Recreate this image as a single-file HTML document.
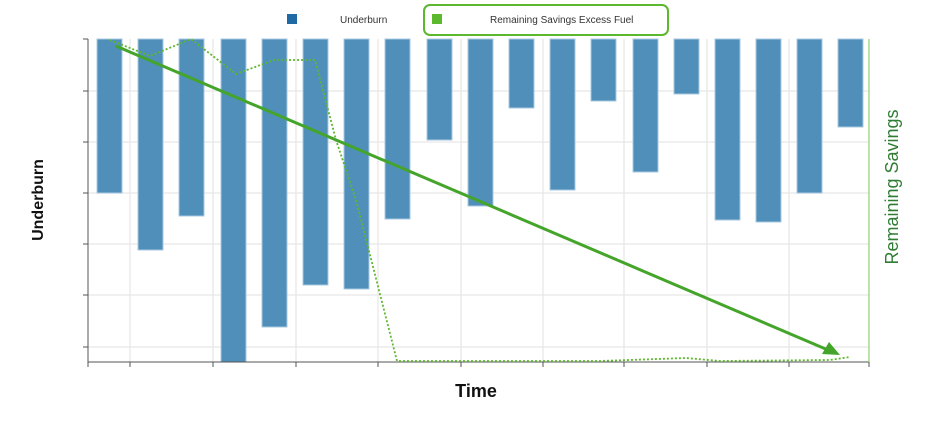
<!DOCTYPE html>
<html><head><meta charset="utf-8"><style>body{margin:0;background:#fff}</style></head><body>
<svg width="940" height="435" xmlns="http://www.w3.org/2000/svg" font-family="Liberation Sans, sans-serif">
<rect width="940" height="435" fill="#fff"/>
<g stroke="#e6e6e6" stroke-width="1.2">
<line x1="88" y1="91" x2="869" y2="91"/><line x1="88" y1="142" x2="869" y2="142"/><line x1="88" y1="193" x2="869" y2="193"/><line x1="88" y1="244" x2="869" y2="244"/><line x1="88" y1="295" x2="869" y2="295"/><line x1="88" y1="347" x2="869" y2="347"/>
<line x1="130" y1="39" x2="130" y2="362"/><line x1="213" y1="39" x2="213" y2="362"/><line x1="296" y1="39" x2="296" y2="362"/><line x1="378" y1="39" x2="378" y2="362"/><line x1="461" y1="39" x2="461" y2="362"/><line x1="543" y1="39" x2="543" y2="362"/><line x1="624" y1="39" x2="624" y2="362"/><line x1="707" y1="39" x2="707" y2="362"/><line x1="789" y1="39" x2="789" y2="362"/>
</g>
<g fill="#4f8fba" stroke="#a9c8e0" stroke-width="1">
<rect x="97" y="39" width="25" height="154"/><rect x="138" y="39" width="25" height="211"/><rect x="179" y="39" width="25" height="177"/><rect x="221" y="39" width="25" height="323"/><rect x="262" y="39" width="25" height="288"/><rect x="303" y="39" width="25" height="246"/><rect x="344" y="39" width="25" height="250"/><rect x="385" y="39" width="25" height="180"/><rect x="427" y="39" width="25" height="101"/><rect x="468" y="39" width="25" height="167"/><rect x="509" y="39" width="25" height="69"/><rect x="550" y="39" width="25" height="151"/><rect x="591" y="39" width="25" height="62"/><rect x="633" y="39" width="25" height="133"/><rect x="674" y="39" width="25" height="55"/><rect x="715" y="39" width="25" height="181"/><rect x="756" y="39" width="25" height="183"/><rect x="797" y="39" width="25" height="154"/><rect x="838" y="39" width="25" height="88"/>
</g>
<g stroke="#555" stroke-width="1">
<line x1="88" y1="39" x2="88" y2="362"/><line x1="88" y1="362" x2="869" y2="362"/>
<line x1="83" y1="39" x2="88" y2="39"/><line x1="83" y1="91" x2="88" y2="91"/><line x1="83" y1="142" x2="88" y2="142"/><line x1="83" y1="193" x2="88" y2="193"/><line x1="83" y1="244" x2="88" y2="244"/><line x1="83" y1="295" x2="88" y2="295"/><line x1="83" y1="347" x2="88" y2="347"/>
<line x1="88" y1="362" x2="88" y2="367"/><line x1="130" y1="362" x2="130" y2="367"/><line x1="213" y1="362" x2="213" y2="367"/><line x1="296" y1="362" x2="296" y2="367"/><line x1="378" y1="362" x2="378" y2="367"/><line x1="461" y1="362" x2="461" y2="367"/><line x1="543" y1="362" x2="543" y2="367"/><line x1="624" y1="362" x2="624" y2="367"/><line x1="707" y1="362" x2="707" y2="367"/><line x1="789" y1="362" x2="789" y2="367"/><line x1="869" y1="362" x2="869" y2="367"/>
</g>
<line x1="869" y1="39" x2="869" y2="362" stroke="#8fd36a" stroke-width="1.2"/>
<polyline points="110,40 150,56 191,39 236,74 274,60 315,60 336,140 356,200 397,361 500,361 600,361 686,358 720,361 830,360 850,357" fill="none" stroke="#5cb82c" stroke-width="1.8" stroke-dasharray="2,2"/>
<line x1="116" y1="46" x2="828" y2="350" stroke="#44a52a" stroke-width="3"/>
<polygon points="840,355 822,354 829,342" fill="#44a52a"/>
<rect x="287" y="14" width="10" height="10" fill="#1f6aa5"/>
<text x="340" y="23" font-size="10" fill="#333">Underburn</text>
<rect x="424" y="5" width="244" height="30" rx="6" fill="none" stroke="#5cb82c" stroke-width="2"/>
<rect x="432" y="14" width="10" height="10" fill="#5cb82c"/>
<text x="490" y="23" font-size="10" fill="#333">Remaining Savings Excess Fuel</text>
<text transform="translate(43,200) rotate(-90)" text-anchor="middle" font-size="16" font-weight="bold" fill="#111">Underburn</text>
<text transform="translate(898,187) rotate(-90)" text-anchor="middle" font-size="18" fill="#2e7d32">Remaining Savings</text>
<text x="476" y="397" text-anchor="middle" font-size="18" font-weight="bold" fill="#111">Time</text>
</svg>
</body></html>
